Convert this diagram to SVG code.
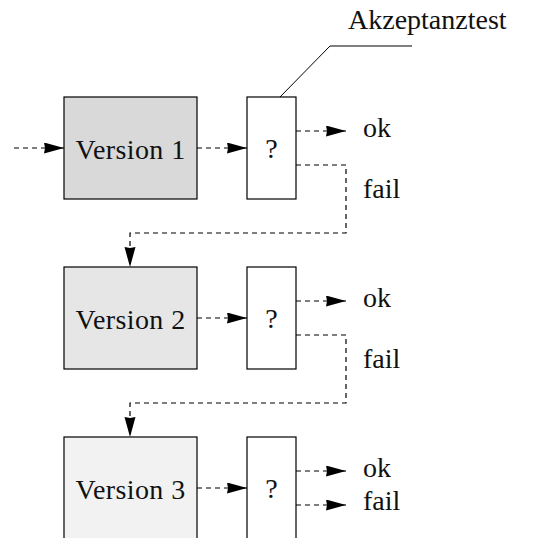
<svg xmlns="http://www.w3.org/2000/svg" width="535" height="538" viewBox="0 0 535 538">
  <style>
    .box { stroke: #000; stroke-width: 1.2; }
    .test { fill: #fff; stroke: #000; stroke-width: 1.2; }
    .lbl { font-family: "Liberation Serif", "DejaVu Serif", serif; font-size: 28px; fill: #111; }
    .dash { fill: none; stroke: #000; stroke-width: 1.2; stroke-dasharray: 5 4; }
    .solid { fill: none; stroke: #000; stroke-width: 1; }
  </style>
  <defs>
    <marker id="arrow" markerUnits="userSpaceOnUse" markerWidth="22" markerHeight="12" refX="20" refY="5.5" orient="auto">
      <polygon points="0,0 20,5.5 0,11 1,5.5" fill="#000"/>
    </marker>
  </defs>
  <rect width="535" height="538" fill="#fff"/>

  <g id="version1">
    <rect class="box" x="64" y="97" width="133" height="102" fill="#d9d9d9"/>
    <text class="lbl" x="130.5" y="159" text-anchor="middle" letter-spacing="0.4">Version 1</text>
  </g>
  <g id="test1">
    <rect class="test" x="247" y="97" width="49" height="102"/>
    <text class="lbl" x="271.5" y="158" text-anchor="middle">?</text>
  </g>
  <g id="version2">
    <rect class="box" x="64" y="267" width="133" height="102" fill="#e6e6e6"/>
    <text class="lbl" x="130.5" y="329" text-anchor="middle" letter-spacing="0.4">Version 2</text>
  </g>
  <g id="test2">
    <rect class="test" x="247" y="267" width="49" height="102"/>
    <text class="lbl" x="271.5" y="328" text-anchor="middle">?</text>
  </g>
  <g id="version3">
    <rect class="box" x="64" y="437" width="133" height="110" fill="#f2f2f2"/>
    <text class="lbl" x="130.5" y="499" text-anchor="middle" letter-spacing="0.4">Version 3</text>
  </g>
  <g id="test3">
    <rect class="test" x="247" y="437" width="49" height="110"/>
    <text class="lbl" x="271.5" y="498" text-anchor="middle">?</text>
  </g>

  <g id="labels">
    <text class="lbl" x="348" y="29">Akzeptanztest</text>
    <text class="lbl" x="363" y="137">ok</text>
    <text class="lbl" x="363" y="198">fail</text>
    <text class="lbl" x="363" y="307">ok</text>
    <text class="lbl" x="363" y="368">fail</text>
    <text class="lbl" x="363" y="477">ok</text>
    <text class="lbl" x="363" y="510">fail</text>
  </g>

  <g id="connectors">
    <!-- acceptance test leader -->
    <polyline class="solid" points="280,97 330,46 412,46"/>
    <!-- stage 1 -->
    <line class="dash" x1="14" y1="148" x2="64" y2="148" marker-end="url(#arrow)"/>
    <line class="dash" x1="197" y1="148" x2="247" y2="148" marker-end="url(#arrow)"/>
    <line class="dash" x1="296" y1="131" x2="346" y2="131" marker-end="url(#arrow)"/>
    <polyline class="dash" points="296,165 346,165 346,233 130,233 130,267" marker-end="url(#arrow)"/>
    <!-- stage 2 -->
    <line class="dash" x1="197" y1="318" x2="247" y2="318" marker-end="url(#arrow)"/>
    <line class="dash" x1="296" y1="301" x2="346" y2="301" marker-end="url(#arrow)"/>
    <polyline class="dash" points="296,335 346,335 346,403 130,403 130,437" marker-end="url(#arrow)"/>
    <!-- stage 3 -->
    <line class="dash" x1="197" y1="488" x2="247" y2="488" marker-end="url(#arrow)"/>
    <line class="dash" x1="296" y1="471" x2="346" y2="471" marker-end="url(#arrow)"/>
    <line class="dash" x1="296" y1="505" x2="346" y2="505" marker-end="url(#arrow)"/>
  </g>
</svg>
